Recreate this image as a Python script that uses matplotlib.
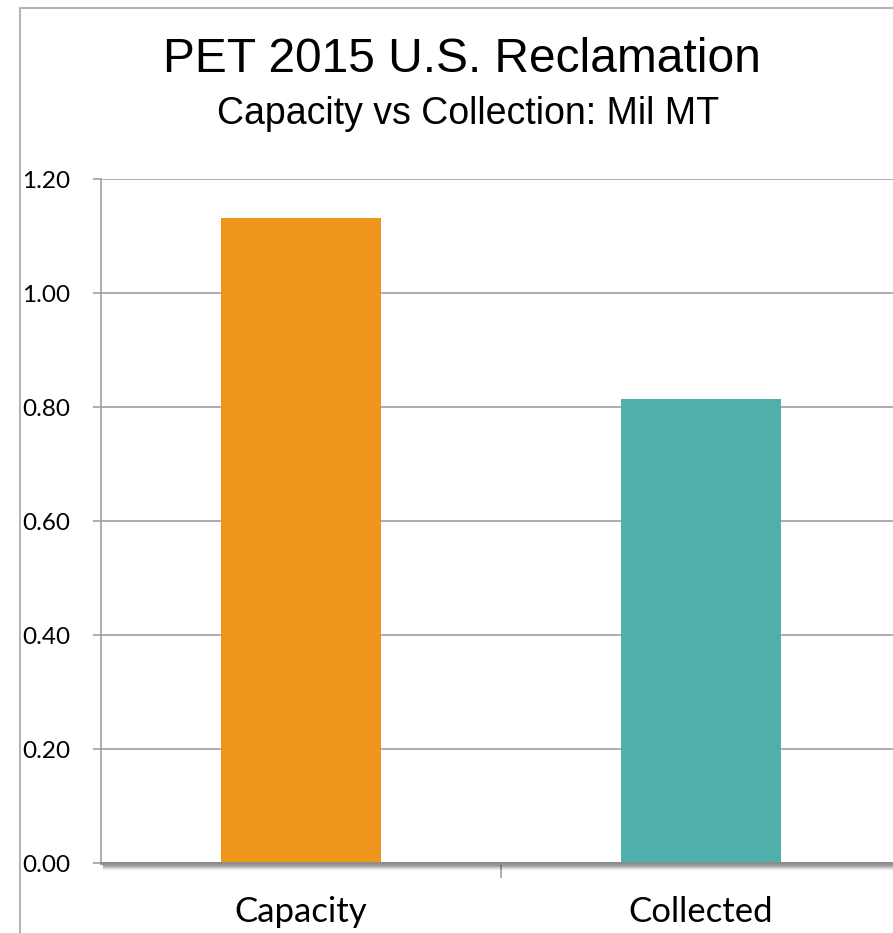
import matplotlib.pyplot as plt
from matplotlib.patches import Rectangle

categories = ['Capacity', 'Collected']
values = [1.132, 0.814]
bar_colors = ['#EE961B', '#4FB0AC']
yticks = [0.0, 0.2, 0.4, 0.6, 0.8, 1.0, 1.2]

W, H = 893, 933
fig = plt.figure(figsize=(W / 100, H / 100), dpi=100)

# outer chart-area border (runs off the right and bottom edges)
fig.patches.append(Rectangle((20 / W, -0.1), 1.2, 1 - 8 / H + 0.1,
                             transform=fig.transFigure, fill=False,
                             edgecolor='#A6A6A6', linewidth=1.2))

ax = fig.add_axes([101 / W, 70 / H, 800 / W, (863 - 179) / H])
x = list(range(len(categories)))
ax.bar(x, values, width=0.4, color=bar_colors, zorder=3)
ax.set_xlim(-0.5, 1.5)
ax.set_ylim(0, 1.2)

ax.set_yticks(yticks)
ax.set_yticklabels([f'{v:.2f}' for v in yticks], family='Lato', fontsize=17.5)
ax.grid(axis='y', color='#A0A0A0', linewidth=1.2, zorder=0)
ax.set_axisbelow(True)
ax.tick_params(axis='y', length=6, width=1.2, color='#A0A0A0', pad=16)

ax.set_xticks([0.5])
ax.set_xticklabels([])
ax.tick_params(axis='x', length=11, width=1.2, color='#A0A0A0', direction='out')
for i, c in enumerate(categories):
    ax.text(i, -0.086, c, ha='center', va='center', family='Lato', fontsize=25,
            transform=ax.transData, clip_on=False)

for s in ['top', 'right']:
    ax.spines[s].set_visible(False)
ax.spines['left'].set_color('#A0A0A0')
ax.spines['left'].set_linewidth(1.2)
ax.spines['bottom'].set_color('#8C8C8C')
ax.spines['bottom'].set_linewidth(2)
ax.spines['bottom'].set_zorder(4)

# soft shadow under the category axis
for k, a in enumerate([0.35, 0.25, 0.17, 0.1, 0.05]):
    ax.axhline(-(k + 1.5) * 1.2 / 684, color='black', alpha=a, linewidth=1,
               clip_on=False, zorder=2, xmin=0.002)

fig.text(462 / W, 1 - 59 / H, 'PET 2015 U.S. Reclamation', ha='center', va='center',
         family='Liberation Sans', fontsize=34.5)
fig.text(468 / W, 1 - 114 / H, 'Capacity vs Collection: Mil MT', ha='center',
         va='center', family='Liberation Sans', fontsize=27)

fig.savefig('out.png', dpi=100)
